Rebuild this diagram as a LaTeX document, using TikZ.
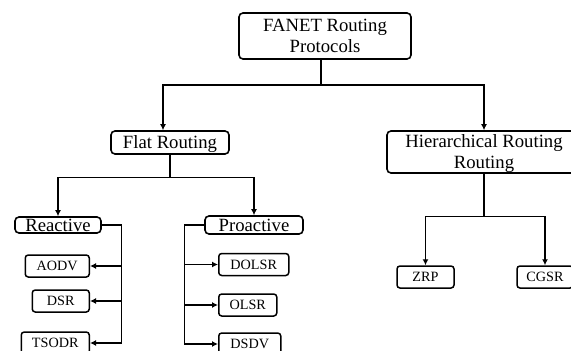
\documentclass[tikz,border=0pt]{standalone}
\usepackage{fontspec}
\setmainfont{Liberation Serif}
\usetikzlibrary{arrows.meta}

\begin{document}
\begin{tikzpicture}[x=1pt, y=-1pt, >={Latex[length=6pt,width=6pt]},
    every node/.style={font=\fontsize{18.7}{21}\selectfont, text depth=0pt},
    bigbox/.style={draw, rounded corners=4pt, line width=1.6pt, inner sep=0pt, align=center},
    smallbox/.style={draw, rounded corners=3pt, line width=1.5pt, inner sep=0pt, minimum height=22pt, font=\fontsize{14.2}{17}\selectfont},
    link/.style={line width=1.3pt}]
    \useasboundingbox (0,0) rectangle (571,351);

    % Root
    \node[bigbox, minimum width=172pt, minimum height=46pt] (fanet) at (325,36) {FANET Routing\\Protocols};

    % Second level
    \node[bigbox, minimum width=118pt, minimum height=23pt] (flat) at (170,142.5) {Flat Routing};
    \node[bigbox, minimum width=194pt, minimum height=42pt] (hier) at (484,152) {Hierarchical Routing\\Routing};

    % Flat routing classes
    \node[bigbox, minimum width=86pt, minimum height=16pt] (reactive) at (58,225) {Reactive};
    \node[bigbox, minimum width=98pt, minimum height=18pt] (proactive) at (254,225) {Proactive};

    % Protocols
    \foreach \name/\word/\y/\w in {aodv/AODV/266/64, dsr/DSR/301/57, tsodr/TSODR/343/68} {
        \node[smallbox, anchor=east, minimum width=\w pt] (\name) at (90,\y) {\word};
    }
    \foreach \name/\word/\y/\w in {dolsr/DOLSR/264.5/70, olsr/OLSR/305/58, dsdv/DSDV/344/62} {
        \node[smallbox, anchor=west, minimum width=\w pt] (\name) at (218,\y) {\word};
    }
    \node[smallbox, minimum width=57pt] (zrp) at (425.5,277) {ZRP};
    \node[smallbox, minimum width=56pt] (cgsr) at (545,277) {CGSR};

    % Arrows
    \coordinate (rootbar) at (321,85);
    \draw[link] ([xshift=-4pt]fanet.south) -- (rootbar);
    \draw[link, ->] (rootbar) -| ([xshift=-7pt]flat.north);
    \draw[link, ->] (rootbar) -| (hier.north);

    \draw[link] (flat.south) -- ++(0,23) coordinate (flatbar);
    \draw[link, ->] (flatbar) -| (reactive.north);
    \draw[link, ->] (flatbar) -| (proactive.north);

    \draw[link] (reactive.east) -- ++(20,0) coordinate (rbus) -- (rbus |- tsodr.east);
    \foreach \name in {aodv, dsr, tsodr} {
        \draw[link, ->] (rbus |- \name.east) -- (\name.east);
    }
    \draw[link] (proactive.west) -- ++(-20,0) coordinate (pbus) -- (pbus |- dsdv.west);
    \foreach \name in {dolsr, olsr, dsdv} {
        \draw[link, ->] (pbus |- \name.west) -- (\name.west);
    }

    \draw[link] (hier.south) -- ++(0,43) coordinate (hierbar);
    \draw[link, ->] (hierbar) -| (zrp.north);
    \draw[link, ->] (hierbar) -| (cgsr.north);
\end{tikzpicture}
\end{document}
